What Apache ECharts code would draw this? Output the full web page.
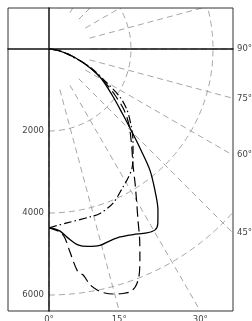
<!DOCTYPE html>
<html lang="en">
<head>
<meta charset="UTF-8">
<title>Light distribution</title>
<script src="https://cdn.jsdelivr.net/npm/echarts@6/dist/echarts.min.js"></script>
<style>
    html, body {margin: 0; padding: 0; background: #fff;}
    #main {width: 252px; height: 321px;}
</style>
</head>
<body>
<div id="main"></div>
<script>
// intensity (cd) against angle from nadir (0 = straight down, 90 = horizontal)
var solidAngles = [0, 1, 3.5, 5.7, 8.4, 11.2, 14.5, 17.6, 20.7, 24.4, 28, 30.4, 32, 34.1, 36.9, 39.8, 42.3, 45, 48.8, 53.9, 61.2, 67.4, 74, 79.7, 85, 90];
var solidValues = [4360, 4370, 4450, 4630, 4830, 4910, 4950, 4910, 4900, 4970, 5080, 5115, 5010, 4740, 4300, 3845, 3330, 2865, 2370, 1905, 1420, 950, 535, 275, 120, 0];

var dashAngles = [0, 3.4, 4.8, 5.9, 7.4, 8.6, 9.9, 11.3, 12.5, 14.6, 16.8, 18.4, 19.9, 21.5, 23.3, 25.4, 27.5, 30.1, 32.7, 35.9, 40.7, 46.5, 50.9, 55.1, 60.1, 66.4, 74, 80, 90];
var dashValues = [4360, 4470, 4625, 4980, 5485, 5575, 5840, 5995, 6085, 6175, 6230, 6245, 6175, 5980, 5605, 5155, 4700, 4255, 3885, 3495, 3090, 2690, 2360, 1960, 1520, 1040, 535, 275, 0];

var dashDotAngles = [0, 5.9, 13.7, 17.2, 22.6, 28.2, 31.5, 34.9, 38.4, 42.7, 47.2, 52, 55.9, 59.3, 66.3, 72.8, 80, 90];
var dashDotValues = [4360, 4265, 4215, 4200, 4070, 3820, 3690, 3540, 3300, 3020, 2725, 2415, 2090, 1675, 1090, 535, 275, 0];

var ringLabels = [2000, 4000, 6000];
var rightAngles = [90, 75, 60, 45];
var bottomAngles = [0, 15, 30];

// frame
var gLeft = 8, gTop = 8, gWidth = 225, gHeight = 303;
var xMin = -1000, xMax = 4488;
var pxPerCd = gWidth / (xMax - xMin);
var yMin = -1000, yMax = yMin + gHeight / pxPerCd;
var center = [gLeft - xMin * pxPerCd, gTop - yMin * pxPerCd];

function pairs(angles, values) {
    return angles.map(function (a, i) { return [values[i], a]; });
}
var rad = Math.PI / 180;
var rightVals = rightAngles.map(function (a) { return xMax * Math.cos(a * rad) / Math.sin(a * rad); });
var bottomVals = bottomAngles.map(function (a) { return yMax * Math.tan(a * rad); });
function degLabel(vals, angles) {
    return function (v) {
        for (var i = 0; i < vals.length; i++) {
            if (Math.abs(vals[i] - v) < 0.01) return angles[i] + '°';
        }
        return '';
    };
}

var gridLine = {color: '#a6a6a6', width: 1, type: [6, 4]};
var labelFont = {fontFamily: 'DejaVu Sans', fontSize: 8.5, color: '#444'};
var hidden = {show: false};

var myChart = echarts.init(document.getElementById('main'));
var option = {
    animation: false,
    grid: {left: gLeft, top: gTop, width: gWidth, height: gHeight, show: true,
        outerBoundsMode: 'none', containLabel: false,
        borderColor: '#333', borderWidth: 1, z: 60},
    xAxis: [{
        type: 'value', min: xMin, max: xMax, z: 100,
        axisLine: {show: true, onZero: true, onZeroAxisIndex: 0, lineStyle: {color: '#111', width: 1.5}},
        axisTick: hidden, axisLabel: hidden, splitLine: hidden
    }, {
        type: 'value', position: 'bottom', min: xMin, max: xMax, z: 100,
        axisLine: {show: false, onZero: false}, axisTick: hidden, splitLine: hidden,
        axisLabel: Object.assign({margin: 4, customValues: bottomVals,
            formatter: degLabel(bottomVals, bottomAngles)}, labelFont)
    }],
    yAxis: [{
        type: 'value', inverse: true, min: yMin, max: yMax, z: 100,
        axisLine: {show: true, onZero: true, onZeroAxisIndex: 0, lineStyle: {color: '#111', width: 1.5}},
        axisTick: hidden, splitLine: hidden,
        // labels sit just left of the zero line, not the frame edge
        axisLabel: Object.assign({margin: 5 + xMin * pxPerCd, customValues: ringLabels,
            formatter: function (v) { return String(v); }}, labelFont)
    }, {
        type: 'value', position: 'right', inverse: true, min: yMin, max: yMax, z: 100,
        axisLine: {show: false, onZero: false}, axisTick: hidden, splitLine: hidden,
        axisLabel: Object.assign({margin: 4, customValues: rightVals,
            formatter: degLabel(rightVals, rightAngles)}, labelFont)
    }],
    polar: [
        {center: center, radius: 8000 * pxPerCd},
        {center: center, radius: [1000 * pxPerCd, 8000 * pxPerCd]}
    ],
    angleAxis: [{
        polarIndex: 0, type: 'value', min: 0, max: 180, startAngle: -90, endAngle: 90, clockwise: false,
        axisLine: hidden, axisTick: hidden, axisLabel: hidden, splitLine: hidden
    }, {
        polarIndex: 1, type: 'value', min: 0, max: 180, interval: 15, startAngle: -90, endAngle: 90, clockwise: false,
        axisLine: hidden, axisTick: hidden, axisLabel: hidden,
        splitLine: {show: true, lineStyle: gridLine}
    }],
    radiusAxis: [{
        polarIndex: 0, type: 'value', min: 0, max: 8000, interval: 2000,
        axisLine: hidden, axisTick: hidden, axisLabel: hidden,
        splitLine: {show: true, lineStyle: gridLine}
    }, {
        polarIndex: 1, type: 'value', min: 1000, max: 8000,
        axisLine: hidden, axisTick: hidden, axisLabel: hidden, splitLine: hidden
    }],
    graphic: [
        {type: 'rect', z: 50, silent: true, shape: {x: 0, y: 0, width: 252, height: gTop}, style: {fill: '#fff'}},
        {type: 'rect', z: 50, silent: true, shape: {x: gLeft + gWidth, y: 0, width: 30, height: 321}, style: {fill: '#fff'}},
        {type: 'rect', z: 50, silent: true, shape: {x: 0, y: gTop + gHeight, width: 252, height: 20}, style: {fill: '#fff'}}
    ],
    series: [{
        type: 'line', coordinateSystem: 'polar', polarIndex: 0, z: 5,
        data: pairs(solidAngles, solidValues), smooth: 0.3, symbol: 'none',
        lineStyle: {color: '#000', width: 1.3, type: 'solid'}
    }, {
        type: 'line', coordinateSystem: 'polar', polarIndex: 0, z: 5,
        data: pairs(dashAngles, dashValues), smooth: 0.3, symbol: 'none',
        lineStyle: {color: '#000', width: 1.2, type: [10, 5]}
    }, {
        type: 'line', coordinateSystem: 'polar', polarIndex: 0, z: 5,
        data: pairs(dashDotAngles, dashDotValues), smooth: 0.3, symbol: 'none',
        lineStyle: {color: '#000', width: 1.2, type: [8, 3, 1.5, 3]}
    }]
};
myChart.setOption(option);
</script>
</body>
</html>
